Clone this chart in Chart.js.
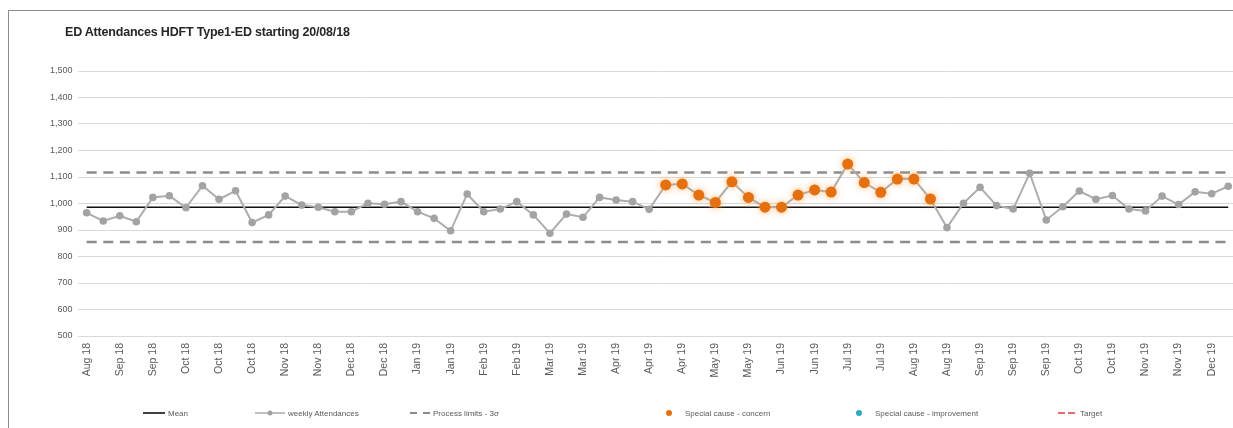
<!DOCTYPE html>
<html>
<head>
<meta charset="utf-8">
<title>ED Attendances HDFT Type1-ED</title>
<script src="https://cdn.jsdelivr.net/npm/chart.js@4.4.1/dist/chart.umd.min.js"></script>
<style>
  html, body { margin: 0; padding: 0; overflow: hidden; background: #fff; width: 1233px; height: 428px; }
  #frame { position: absolute; left: 8px; top: 10px; width: 1300px; height: 500px;
           border-left: 1px solid #8c8c8c; border-top: 1px solid #8c8c8c; }
  #chart { position: absolute; left: 0; top: 0; }
  #title { position: absolute; left: 56px; top: 14px; white-space: nowrap; color: #262626; letter-spacing: -0.2px;
           font: bold 12.5px 'Liberation Sans Narrow', 'Liberation Sans', Arial, sans-serif; }
  .lg { position: absolute; top: 396px; height: 12px; display: flex; align-items: center; white-space: nowrap;
        font: 8px 'Liberation Sans Narrow', 'Liberation Sans', Arial, sans-serif; color: #595959; }
  .lg svg { margin-right: 3px; }
</style>
</head>
<body>
<div id="frame">
  <canvas id="chart" width="1233" height="417"></canvas>
  <div id="title">ED Attendances HDFT  Type1-ED starting 20/08/18</div>
  <div class="lg" style="left:134px"><svg width="22" height="10"><line x1="0" y1="5" x2="22" y2="5" stroke="#000" stroke-width="1.5"/></svg><span>Mean</span></div>
  <div class="lg" style="left:246px"><svg width="30" height="10"><line x1="0" y1="5" x2="30" y2="5" stroke="#aaaaaa" stroke-width="1.5"/><circle cx="15" cy="5" r="2.5" fill="#a0a0a0"/></svg><span>weekly Attendances</span></div>
  <div class="lg" style="left:401px"><svg width="20" height="10"><line x1="0" y1="5" x2="20" y2="5" stroke="#8c8c8c" stroke-width="2" stroke-dasharray="7 6"/></svg><span>Process limits - 3σ</span></div>
  <div class="lg" style="left:655px"><svg width="12" height="10"><circle cx="5" cy="5" r="3" fill="#e5700f"/></svg><span style="margin-left:6px">Special cause - concern</span></div>
  <div class="lg" style="left:845px"><svg width="12" height="10"><circle cx="5" cy="5" r="3" fill="#2fa9c4"/></svg><span style="margin-left:6px">Special cause  - improvement</span></div>
  <div class="lg" style="left:1049px"><svg width="17" height="10"><line x1="0" y1="5" x2="17" y2="5" stroke="#e03c3c" stroke-width="1.5" stroke-dasharray="7 3"/></svg><span style="margin-left:2px">Target</span></div>
</div>
<script>
// Week-commencing month labels, one per weekly point from 20/08/18
const weekLabels = [
  'Aug 18','Aug 18','Sep 18','Sep 18','Sep 18','Sep 18','Oct 18','Oct 18','Oct 18','Oct 18',
  'Oct 18','Nov 18','Nov 18','Nov 18','Nov 18','Dec 18','Dec 18','Dec 18','Dec 18','Dec 18',
  'Jan 19','Jan 19','Jan 19','Jan 19','Feb 19','Feb 19','Feb 19','Feb 19','Mar 19','Mar 19',
  'Mar 19','Mar 19','Apr 19','Apr 19','Apr 19','Apr 19','Apr 19','May 19','May 19','May 19',
  'May 19','Jun 19','Jun 19','Jun 19','Jun 19','Jul 19','Jul 19','Jul 19','Jul 19','Jul 19',
  'Aug 19','Aug 19','Aug 19','Aug 19','Sep 19','Sep 19','Sep 19','Sep 19','Sep 19','Oct 19',
  'Oct 19','Oct 19','Oct 19','Nov 19','Nov 19','Nov 19','Nov 19','Dec 19','Dec 19','Dec 19'
];

// Weekly Type 1 ED attendances
const attendances = [
  965, 934, 954, 931, 1023, 1029, 984, 1067, 1016, 1048,
  928, 957, 1028, 994, 986, 969, 969, 1001, 997, 1007,
  969, 944, 897, 1036, 969, 979, 1007, 957, 888, 960,
  948, 1023, 1013, 1007, 978, 1070, 1074, 1032, 1004, 1082,
  1023, 986, 986, 1032, 1051, 1043, 1149, 1079, 1042, 1092,
  1092, 1017, 909, 1001, 1061, 992, 979, 1114, 938, 988,
  1047, 1016, 1030, 979, 972, 1028, 996, 1044, 1037, 1065
];

// Weeks flagged as special cause (concern): run of points above the mean
const concernWeeks = [35, 36, 37, 38, 39, 40, 41, 42, 43, 44, 45, 46, 47, 48, 49, 50, 51];
const improvementWeeks = [];

// Control chart statistics
const meanValue = 986;
const upperLimit = 1117;
const lowerLimit = 855;

// y-axis range
const yMin = 500, yMax = 1500, yStep = 100;

const FONT = "'Liberation Sans Narrow', 'Liberation Sans', Arial, sans-serif";
const flat = v => weekLabels.map(() => v);
const pick = weeks => attendances.map((v, i) => weeks.includes(i) ? v : null);

// Soft halo behind the special-cause markers
const glowPlugin = {
  id: 'glow',
  beforeDatasetDraw(chart, args) {
    const ds = chart.data.datasets[args.index];
    if (ds.glowColor) {
      chart.ctx.save();
      chart.ctx.shadowColor = ds.glowColor;
      chart.ctx.shadowBlur = 7;
    }
  },
  afterDatasetDraw(chart, args) {
    if (chart.data.datasets[args.index].glowColor) chart.ctx.restore();
  }
};

new Chart(document.getElementById('chart'), {
  type: 'line',
  data: {
    labels: weekLabels,
    datasets: [
      { label: 'Special cause - concern', data: pick(concernWeeks), showLine: false,
        pointRadius: 5.5, pointBackgroundColor: '#e5700f', pointBorderColor: '#e5700f', pointBorderWidth: 0,
        glowColor: 'rgba(250,170,90,0.9)', order: 0 },
      { label: 'Special cause - improvement', data: pick(improvementWeeks), showLine: false,
        pointRadius: 5.5, pointBackgroundColor: '#2fa9c4', pointBorderWidth: 0, order: 0 },
      { label: 'weekly Attendances', data: attendances, borderColor: '#adadad', borderWidth: 2,
        pointRadius: 3.8, pointBackgroundColor: '#a3a3a3', pointBorderColor: '#a3a3a3', pointBorderWidth: 0,
        tension: 0, order: 1 },
      { label: 'Mean', data: flat(meanValue), borderColor: '#111', borderWidth: 1.5, pointRadius: 0, order: 2 },
      { label: 'Process limits - 3σ', data: flat(upperLimit), borderColor: '#8c8c8c', borderWidth: 2.5,
        borderDash: [10, 6.6], pointRadius: 0, order: 3 },
      { label: 'Lower process limit', data: flat(lowerLimit), borderColor: '#8c8c8c', borderWidth: 2.5,
        borderDash: [10, 6.6], pointRadius: 0, order: 3 }
    ]
  },
  options: {
    responsive: false,
    animation: false,
    layout: { padding: { top: 60, left: 0, right: 0, bottom: 42 } },
    plugins: { legend: { display: false }, tooltip: { enabled: false }, title: { display: false } },
    scales: {
      x: {
        type: 'category',
        offset: true,
        grid: { display: false, drawTicks: false },
        border: { display: false },
        ticks: {
          autoSkip: false, minRotation: 90, maxRotation: 90, padding: 7,
          color: '#595959', font: { family: FONT, size: 10.5 },
          callback: (value, index) => index % 2 === 0 ? weekLabels[index] : ''
        },
        afterFit: s => { s.height = 50; s.paddingLeft = 0; s.paddingRight = 0; }
      },
      y: {
        min: yMin, max: yMax,
        grid: { color: '#d9d9d9', lineWidth: 1, drawTicks: false },
        border: { display: false },
        ticks: { stepSize: yStep, padding: 6, color: '#595959', font: { family: FONT, size: 9 } },
        afterFit: s => { s.width = 69.4; }
      }
    }
  },
  plugins: [glowPlugin]
});
</script>
</body>
</html>
